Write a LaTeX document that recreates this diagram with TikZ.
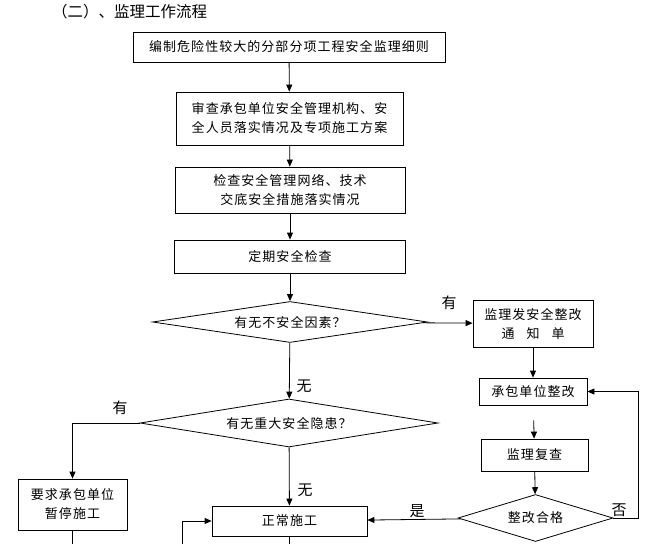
\documentclass[tikz,border=0pt]{standalone}
\usepackage{fontspec}
\setmainfont{Noto Sans CJK SC}
\newfontfamily\boxfont{Noto Sans CJK SC}[LetterSpace=8]
\usetikzlibrary{arrows.meta,positioning,shapes.geometric}
\tikzset{stepbox/.style={draw, line width=0.8pt, inner sep=0pt, align=center, font=\boxfont\fontsize{13}{19}\selectfont}}
\tikzset{askbox/.style={diamond, draw, line width=0.8pt, inner sep=0pt, font=\boxfont\fontsize{13}{19}\selectfont}}
\tikzset{arr/.style={draw, line width=0.8pt, -{Triangle[length=7pt,width=6pt]}}}
\tikzset{line/.style={draw, line width=0.8pt}}
\tikzset{lbl/.style={font=\fontsize{15}{15}\selectfont, inner sep=0pt}}

\begin{document}
\begin{tikzpicture}[x=1pt,y=-1pt]
    \useasboundingbox (0,0) rectangle (647,543);
    \clip (0,0) rectangle (647,543);

    \node[anchor=west, font=\fontsize{15.5}{15.5}\selectfont, inner sep=0pt] (title) at (52,12) {（二）、监理工作流程};

    % main column
    \node[stepbox, minimum width=312pt, minimum height=30pt] (rules) at (289,47) {编制危险性较大的分部分项工程安全监理细则};
    \node[stepbox, minimum width=227pt, minimum height=53pt] (review) at (289.5,118.5) {审查承包单位安全管理机构、安\\全人员落实情况及专项施工方案};
    \node[stepbox, minimum width=230pt, minimum height=46pt] (check) at (290,190) {检查安全管理网络、技术\\交底安全措施落实情况};
    \node[stepbox, minimum width=231pt, minimum height=33pt] (regular) at (290,256.5) {定期安全检查};
    \node[askbox, aspect=6.7, minimum width=275pt, minimum height=41pt] (unsafe) at (290,322) {有无不安全因素？};
    \node[askbox, aspect=6.2, minimum width=298pt, minimum height=48pt] (hazard) at (289,423) {有无重大安全隐患？};
    \node[stepbox, minimum width=155pt, minimum height=30pt] (normal) at (289.5,521) {正常施工};
    \node[stepbox, minimum width=109pt, minimum height=51pt] (stop) at (72.5,504.5) {要求承包单位\\暂停施工};

    % right column
    \node[stepbox, minimum width=120pt, minimum height=47pt] (notice) at (533,323.5) {监理发安全整改\\通\hspace{12pt}知\hspace{12pt}单};
    \node[stepbox, minimum width=108pt, minimum height=27pt] (rectify) at (533,391.5) {承包单位整改};
    \node[stepbox, minimum width=107pt, minimum height=32pt] (recheck) at (534.5,455) {监理复查};
    \node[askbox, aspect=3.3, minimum width=155pt, minimum height=47pt] (pass) at (535.5,518) {整改合格};

    % loose ends below the page
    \coordinate (stopend) at (stop.south |- 0,560);
    \coordinate (normalend) at (normal.south |- 0,560);
    \coordinate (backstart) at (182,560);
    \coordinate (loop) at (638,518);

    \draw[arr] (rules) -- (review);
    \draw[arr] (review) -- (check);
    \draw[arr] (check) -- (regular);
    \draw[arr] (regular) -- (unsafe);
    \draw[arr] (unsafe) -- (notice);
    \draw[arr] (unsafe) -- (hazard);
    \draw[arr] (notice) -- (rectify);
    \draw[arr, shorten <=15pt] (rectify) -- (recheck);
    \draw[arr] (recheck) -- (pass);
    \draw[arr] (pass) -- (normal);
    \draw[arr] (pass.east) -- (loop) |- (rectify.east);
    \draw[arr] (hazard.west) -| (stop.north);
    \draw[arr] (hazard) -- (normal);
    \draw[line] (stop) -- (stopend);
    \draw[line] (normal) -- (normalend);
    \draw[arr] (backstart) |- (normal.west);

    \node[lbl] (yes1) at (449,303) {有};
    \node[lbl] (no1) at (304,386) {无};
    \node[lbl] (yes2) at (120,408) {有};
    \node[lbl] (no2) at (305,490) {无};
    \node[lbl] (ok) at (417,511) {是};
    \node[lbl] (fail) at (619,510) {否};
\end{tikzpicture}
\end{document}
